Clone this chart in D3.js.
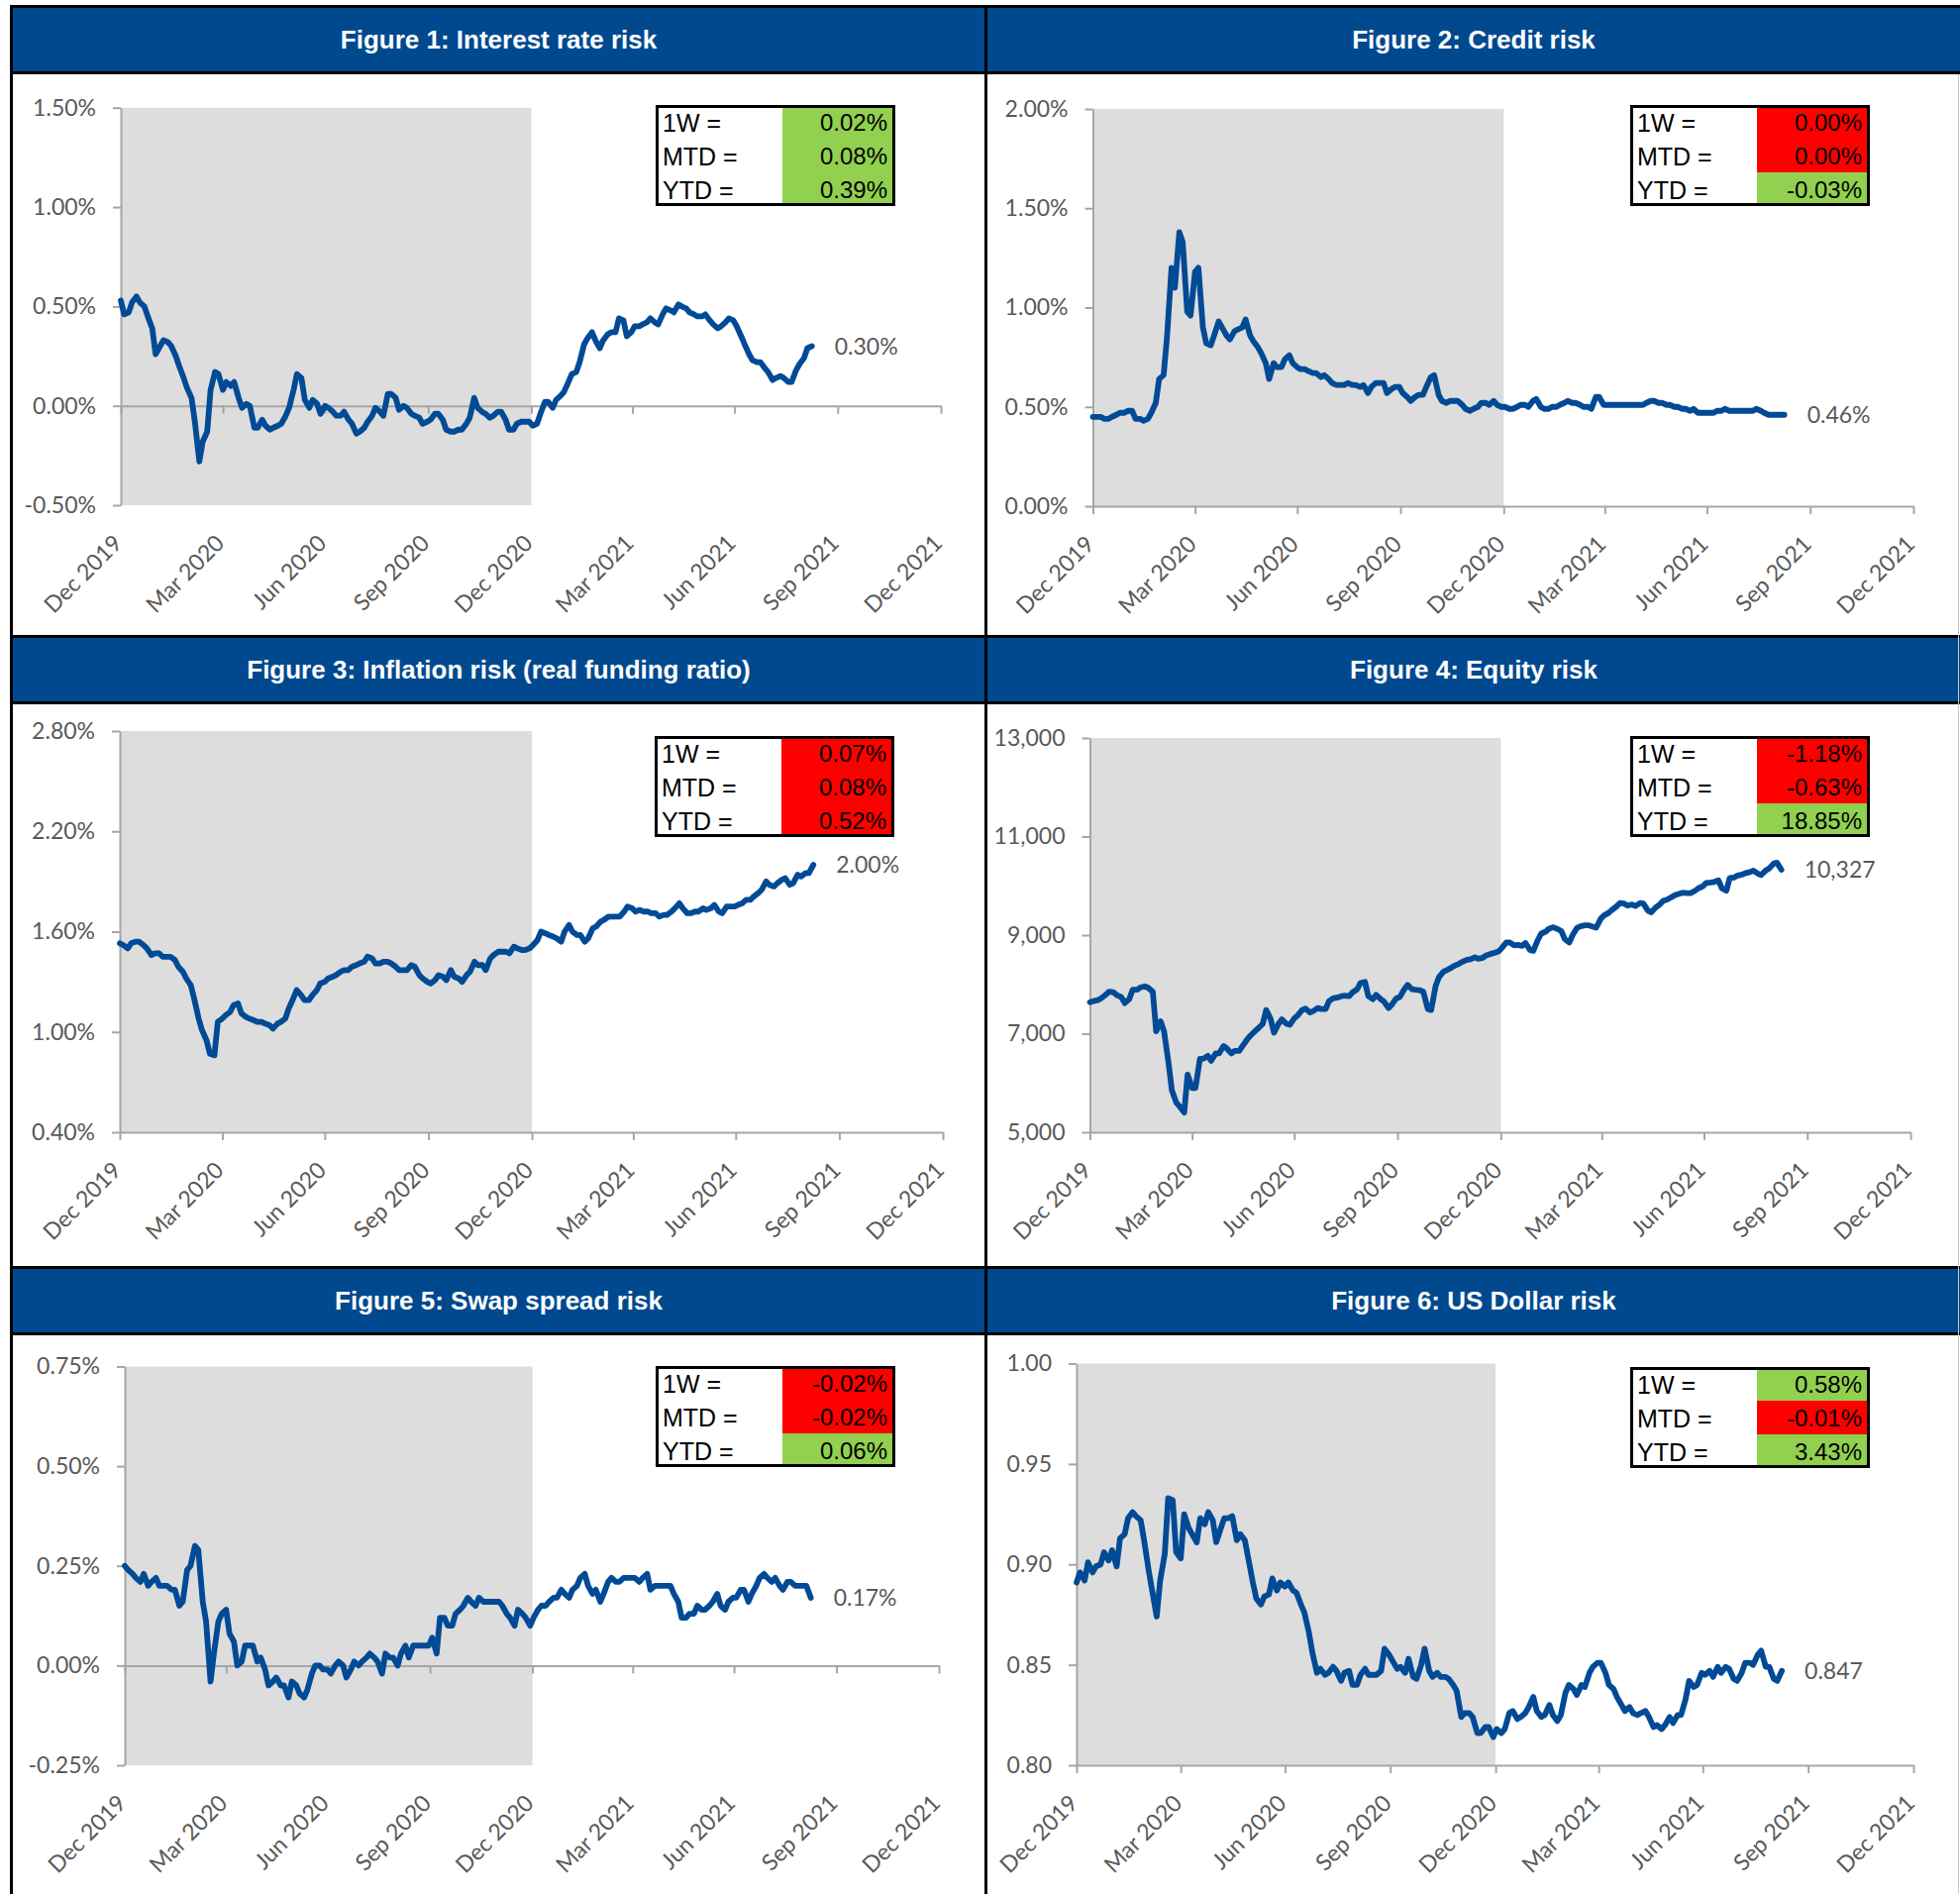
<!DOCTYPE html>
<html>
<head>
<meta charset="utf-8">
<script src="https://cdn.jsdelivr.net/npm/d3@7"></script>
<style>
  html, body { margin: 0; padding: 0; background: #fff; }
  svg { display: block; }
</style>
</head>
<body>
<svg id="chart" width="1979" height="1912"></svg>
<script>
// ---- data ----
const titles = [
  "Figure 1: Interest rate risk",
  "Figure 2: Credit risk",
  "Figure 3: Inflation risk (real funding ratio)",
  "Figure 4: Equity risk",
  "Figure 5: Swap spread risk",
  "Figure 6: US Dollar risk"
];

const quarterTicks = ["2019-12-31", "2020-03-31", "2020-06-30", "2020-09-30", "2020-12-31",
  "2021-03-31", "2021-06-30", "2021-09-30", "2021-12-31"];
const quarterLabels = ["Dec 2019", "Mar 2020", "Jun 2020", "Sep 2020", "Dec 2020",
  "Mar 2021", "Jun 2021", "Sep 2021", "Dec 2021"];
const shadeEnd = "2020-12-31";
// observations twice a week: Tuesdays 31 Dec 2019 .. 7 Sep 2021, Fridays 3 Jan 2020 .. 3 Sep 2021
const firstTue = "2019-12-31", lastTue = "2021-09-07";
const firstFri = "2020-01-03", lastFri = "2021-09-03";

// Figure 1, % (Tuesday / Friday readings)
const rateTue = [0.53, 0.47, 0.55, 0.50, 0.39, 0.30, 0.32, 0.25, 0.14, 0.04,
  -0.28, -0.13, 0.17, 0.08, 0.10, 0.04, 0.01, -0.11, -0.07, -0.12,
  -0.10, -0.05, 0.08, 0.14, -0.01, 0.01, 0.00, -0.03, -0.05, -0.07,
  -0.14, -0.11, -0.05, -0.03, 0.06, 0.04, 0.00, -0.04, -0.06, -0.08,
  -0.04, -0.07, -0.13, -0.12, -0.09, 0.04, -0.03, -0.06, -0.03, -0.07,
  -0.12, -0.08, -0.08, -0.09, 0.02, -0.01, 0.05, 0.12, 0.17, 0.31,
  0.37, 0.29, 0.36, 0.37, 0.43, 0.37, 0.40, 0.42, 0.42, 0.46,
  0.48, 0.51, 0.49, 0.46, 0.45, 0.43, 0.39, 0.42, 0.43, 0.35,
  0.26, 0.22, 0.19, 0.13, 0.15, 0.12, 0.18, 0.24, 0.30];
const rateFri = [0.46, 0.52, 0.52, 0.45, 0.26, 0.33, 0.30, 0.20, 0.09, -0.08,
  -0.18, 0.08, 0.16, 0.12, 0.12, -0.01, 0.00, -0.11, -0.10, -0.11,
  -0.09, -0.01, 0.16, 0.03, 0.03, -0.04, -0.01, -0.05, -0.03, -0.09,
  -0.13, -0.08, -0.01, -0.05, 0.06, -0.02, -0.01, -0.05, -0.09, -0.07,
  -0.04, -0.12, -0.13, -0.12, -0.06, -0.01, -0.04, -0.05, -0.03, -0.12,
  -0.09, -0.08, -0.10, -0.04, 0.02, 0.03, 0.07, 0.16, 0.22, 0.34,
  0.33, 0.33, 0.37, 0.44, 0.35, 0.40, 0.41, 0.44, 0.41, 0.49,
  0.47, 0.50, 0.47, 0.45, 0.46, 0.41, 0.40, 0.44, 0.40, 0.31,
  0.23, 0.22, 0.17, 0.14, 0.14, 0.12, 0.21, 0.29];

// Figure 2, %
const creditTue = [0.45, 0.45, 0.44, 0.46, 0.47, 0.48, 0.44, 0.44, 0.52, 0.66,
  1.20, 1.38, 0.98, 1.18, 0.90, 0.81, 0.93, 0.86, 0.88, 0.90,
  0.86, 0.80, 0.72, 0.72, 0.70, 0.76, 0.70, 0.69, 0.67, 0.65,
  0.64, 0.61, 0.61, 0.61, 0.60, 0.57, 0.62, 0.62, 0.59, 0.60,
  0.55, 0.55, 0.56, 0.65, 0.56, 0.52, 0.53, 0.51, 0.48, 0.50,
  0.52, 0.53, 0.50, 0.49, 0.50, 0.51, 0.53, 0.50, 0.49, 0.50,
  0.52, 0.52, 0.51, 0.50, 0.55, 0.51, 0.51, 0.51, 0.51, 0.51,
  0.51, 0.53, 0.52, 0.51, 0.50, 0.49, 0.48, 0.47, 0.47, 0.47,
  0.48, 0.48, 0.48, 0.48, 0.48, 0.48, 0.46, 0.46, 0.46];
const creditFri = [0.45, 0.44, 0.45, 0.47, 0.48, 0.44, 0.43, 0.47, 0.64, 0.85,
  1.10, 1.33, 0.96, 1.20, 0.82, 0.86, 0.90, 0.84, 0.89, 0.94,
  0.83, 0.77, 0.64, 0.70, 0.74, 0.72, 0.69, 0.68, 0.67, 0.66,
  0.62, 0.61, 0.62, 0.61, 0.61, 0.60, 0.62, 0.57, 0.60, 0.57,
  0.53, 0.56, 0.60, 0.66, 0.53, 0.53, 0.53, 0.49, 0.49, 0.52,
  0.51, 0.51, 0.50, 0.49, 0.51, 0.50, 0.54, 0.49, 0.50, 0.51,
  0.53, 0.52, 0.50, 0.49, 0.55, 0.51, 0.51, 0.51, 0.51, 0.51,
  0.52, 0.53, 0.52, 0.51, 0.50, 0.49, 0.49, 0.47, 0.47, 0.48,
  0.49, 0.48, 0.48, 0.48, 0.49, 0.47, 0.46, 0.46];

// Figure 3, %
const inflationTue = [1.53, 1.50, 1.54, 1.52, 1.46, 1.47, 1.45, 1.43, 1.36, 1.28,
  1.08, 0.95, 0.86, 1.08, 1.12, 1.17, 1.09, 1.07, 1.06, 1.04,
  1.05, 1.08, 1.20, 1.22, 1.19, 1.25, 1.30, 1.33, 1.36, 1.37,
  1.40, 1.42, 1.44, 1.41, 1.42, 1.39, 1.37, 1.40, 1.34, 1.30,
  1.31, 1.33, 1.37, 1.32, 1.34, 1.42, 1.40, 1.44, 1.48, 1.48,
  1.51, 1.49, 1.50, 1.55, 1.59, 1.57, 1.54, 1.64, 1.58, 1.54,
  1.62, 1.66, 1.69, 1.69, 1.72, 1.74, 1.73, 1.72, 1.71, 1.70,
  1.72, 1.77, 1.71, 1.72, 1.74, 1.74, 1.72, 1.75, 1.75, 1.77,
  1.79, 1.83, 1.90, 1.87, 1.91, 1.88, 1.94, 1.95, 2.00];
const inflationFri = [1.52, 1.53, 1.54, 1.50, 1.47, 1.45, 1.45, 1.39, 1.32, 1.20,
  1.01, 0.87, 1.06, 1.10, 1.16, 1.11, 1.08, 1.06, 1.05, 1.02,
  1.06, 1.14, 1.25, 1.19, 1.22, 1.29, 1.32, 1.34, 1.37, 1.39,
  1.41, 1.45, 1.41, 1.42, 1.41, 1.37, 1.37, 1.39, 1.32, 1.29,
  1.34, 1.31, 1.33, 1.30, 1.36, 1.40, 1.37, 1.46, 1.48, 1.47,
  1.50, 1.49, 1.52, 1.60, 1.58, 1.56, 1.60, 1.60, 1.58, 1.56,
  1.63, 1.67, 1.69, 1.69, 1.75, 1.72, 1.72, 1.71, 1.69, 1.70,
  1.74, 1.74, 1.71, 1.72, 1.73, 1.76, 1.71, 1.75, 1.76, 1.79,
  1.81, 1.85, 1.88, 1.89, 1.92, 1.89, 1.93, 1.95];

// Figure 4, index level
const equityTue = [7640, 7680, 7790, 7840, 7740, 7700, 7890, 7960, 7850, 7250,
  6410, 5600, 5400, 5900, 6490, 6550, 6600, 6750, 6600, 6650,
  6880, 7050, 7200, 7300, 7200, 7200, 7310, 7480, 7430, 7520,
  7500, 7720, 7760, 7760, 7900, 8050, 7700, 7700, 7520, 7720,
  7900, 7900, 7880, 7500, 7970, 8260, 8340, 8420, 8500, 8550,
  8540, 8620, 8670, 8850, 8790, 8780, 8700, 8900, 9070, 9160,
  9080, 8850, 9150, 9200, 9170, 9330, 9450, 9580, 9640, 9620,
  9650, 9500, 9560, 9700, 9770, 9840, 9850, 9900, 9990, 10070,
  10110, 9900, 10170, 10230, 10280, 10250, 10310, 10450, 10327];
const equityFri = [7660, 7720, 7850, 7780, 7620, 7890, 7940, 7930, 7050, 7050,
  5850, 5520, 6170, 5900, 6490, 6450, 6600, 6700, 6650, 6750,
  6960, 7110, 7480, 7020, 7290, 7180, 7370, 7510, 7460, 7500,
  7660, 7730, 7770, 7840, 8030, 7760, 7790, 7650, 7590, 7740,
  7990, 7890, 7850, 7480, 8150, 8290, 8380, 8460, 8510, 8520,
  8590, 8640, 8740, 8850, 8800, 8840, 8680, 9030, 9130, 9130,
  8920, 9000, 9180, 9200, 9150, 9400, 9510, 9650, 9600, 9590,
  9640, 9460, 9610, 9720, 9810, 9860, 9850, 9950, 10060, 10080,
  9950, 10160, 10210, 10260, 10310, 10220, 10350, 10470];

// Figure 5, %
const swapTue = [0.25, 0.23, 0.21, 0.20, 0.22, 0.20, 0.19, 0.15, 0.24, 0.30,
  0.16, -0.04, 0.11, 0.14, 0.06, 0.01, 0.05, 0.01, -0.01, -0.04,
  -0.05, -0.08, -0.05, -0.08, -0.02, 0.00, -0.01, 0.00, 0.00, -0.01,
  0.00, 0.02, 0.02, -0.02, 0.02, 0.00, 0.05, 0.05, 0.05, 0.05,
  0.03, 0.12, 0.10, 0.14, 0.17, 0.15, 0.16, 0.16, 0.16, 0.13,
  0.10, 0.13, 0.10, 0.14, 0.15, 0.17, 0.19, 0.17, 0.20, 0.23,
  0.18, 0.16, 0.21, 0.21, 0.22, 0.22, 0.21, 0.23, 0.20, 0.20,
  0.20, 0.16, 0.12, 0.13, 0.14, 0.15, 0.18, 0.14, 0.17, 0.19,
  0.16, 0.20, 0.23, 0.21, 0.20, 0.21, 0.20, 0.20, 0.17];
const swapFri = [0.24, 0.22, 0.23, 0.21, 0.20, 0.20, 0.19, 0.16, 0.25, 0.29,
  0.11, 0.03, 0.13, 0.08, 0.00, 0.05, 0.05, 0.02, -0.05, -0.03,
  -0.05, -0.04, -0.07, -0.06, 0.00, -0.01, -0.02, 0.01, -0.03, 0.01,
  0.01, 0.03, 0.01, 0.03, 0.02, 0.03, 0.02, 0.05, 0.05, 0.07,
  0.12, 0.10, 0.13, 0.15, 0.16, 0.17, 0.16, 0.16, 0.15, 0.12,
  0.14, 0.12, 0.12, 0.15, 0.16, 0.17, 0.18, 0.19, 0.22, 0.20,
  0.19, 0.18, 0.22, 0.21, 0.22, 0.22, 0.22, 0.19, 0.20, 0.20,
  0.18, 0.12, 0.13, 0.15, 0.14, 0.16, 0.15, 0.16, 0.17, 0.19,
  0.18, 0.22, 0.22, 0.22, 0.19, 0.21, 0.20, 0.20];

// Figure 6, USD rate
const usdTue = [0.891, 0.892, 0.896, 0.900, 0.902, 0.899, 0.915, 0.926, 0.922, 0.897,
  0.874, 0.905, 0.932, 0.903, 0.918, 0.911, 0.920, 0.922, 0.918, 0.923,
  0.912, 0.912, 0.891, 0.880, 0.885, 0.887, 0.889, 0.887, 0.880, 0.866,
  0.846, 0.845, 0.849, 0.842, 0.847, 0.840, 0.848, 0.845, 0.847, 0.855,
  0.848, 0.846, 0.844, 0.850, 0.847, 0.846, 0.844, 0.840, 0.824, 0.826,
  0.816, 0.819, 0.814, 0.816, 0.826, 0.823, 0.826, 0.834, 0.824, 0.830,
  0.822, 0.836, 0.838, 0.840, 0.846, 0.851, 0.846, 0.838, 0.830, 0.829,
  0.825, 0.827, 0.819, 0.818, 0.824, 0.825, 0.833, 0.839, 0.846, 0.847,
  0.849, 0.849, 0.843, 0.846, 0.851, 0.855, 0.849, 0.843, 0.847];
const usdFri = [0.896, 0.901, 0.899, 0.906, 0.907, 0.913, 0.923, 0.924, 0.912, 0.887,
  0.892, 0.933, 0.906, 0.925, 0.915, 0.923, 0.926, 0.911, 0.923, 0.924,
  0.915, 0.903, 0.883, 0.884, 0.893, 0.891, 0.891, 0.886, 0.876, 0.856,
  0.848, 0.846, 0.847, 0.846, 0.840, 0.845, 0.845, 0.845, 0.858, 0.852,
  0.849, 0.853, 0.843, 0.858, 0.844, 0.844, 0.843, 0.837, 0.826, 0.824,
  0.816, 0.819, 0.818, 0.818, 0.827, 0.824, 0.829, 0.827, 0.825, 0.825,
  0.825, 0.840, 0.835, 0.839, 0.849, 0.851, 0.840, 0.834, 0.827, 0.826,
  0.826, 0.824, 0.820, 0.820, 0.821, 0.825, 0.842, 0.840, 0.845, 0.844,
  0.846, 0.848, 0.842, 0.851, 0.850, 0.857, 0.849, 0.842];

const rateTicks = [-0.5, 0, 0.5, 1.0, 1.5];
const creditTicks = [0, 0.5, 1.0, 1.5, 2.0];
const inflationTicks = [0.4, 1.0, 1.6, 2.2, 2.8];
const equityTicks = [5000, 7000, 9000, 11000, 13000];
const swapTicks = [-0.25, 0, 0.25, 0.5, 0.75];
const usdTicks = [0.80, 0.85, 0.90, 0.95, 1.00];

const lastLabels = ["0.30%", "0.46%", "2.00%", "10,327", "0.17%", "0.847"];

const statLabels = ["1W =", "MTD =", "YTD ="];
const statValues = [
  ["0.02%", "0.08%", "0.39%"],
  ["0.00%", "0.00%", "-0.03%"],
  ["0.07%", "0.08%", "0.52%"],
  ["-1.18%", "-0.63%", "18.85%"],
  ["-0.02%", "-0.02%", "0.06%"],
  ["0.58%", "-0.01%", "3.43%"]
];
const statGood = [
  [true, true, true],
  [false, false, true],
  [false, false, false],
  [false, false, true],
  [false, false, true],
  [true, false, true]
];

// ---- styling / layout ----
const BLUE = "#00498F", LINE = "#004A96", SHADE = "#DDDDDD", AXIS = "#A6A6A6",
  LABEL = "#595959", GREEN = "#92D050", RED = "#FF0000";
const tickFont = "Lato, 'Open Sans', sans-serif";
const tableFont = "'Liberation Sans', Arial, sans-serif";

const loc = d3.formatLocale({decimal: ".", thousands: ",", grouping: [3], currency: ["", ""], minus: "-"});
const pct = v => loc.format(".2f")(v) + "%";

const rowTops = [6, 642, 1279];
const colCenters = [503.5, 1488];

const panels = [
  {tue: rateTue, fri: rateFri, domain: [-0.5, 1.5], ticks: rateTicks, fmt: pct, zeroAxis: true,
   x0: 122, x1: 950, y0: 108.7, y1: 510, tx: 662, ty: 106, col: 0, row: 0},
  {tue: creditTue, fri: creditFri, domain: [0, 2], ticks: creditTicks, fmt: pct, zeroAxis: false,
   x0: 1103.5, x1: 1932, y0: 110, y1: 511, tx: 1646, ty: 106, col: 1, row: 0},
  {tue: inflationTue, fri: inflationFri, domain: [0.4, 2.8], ticks: inflationTicks, fmt: pct, zeroAxis: false,
   x0: 121, x1: 952, y0: 738, y1: 1143, tx: 661, ty: 743, col: 0, row: 1},
  {tue: equityTue, fri: equityFri, domain: [5000, 13000], ticks: equityTicks, fmt: loc.format(","), zeroAxis: false,
   x0: 1100.5, x1: 1929, y0: 745, y1: 1143, tx: 1646, ty: 743, col: 1, row: 1},
  {tue: swapTue, fri: swapFri, domain: [-0.25, 0.75], ticks: swapTicks, fmt: pct, zeroAxis: true,
   x0: 126, x1: 948, y0: 1379.5, y1: 1782, tx: 662, ty: 1379, col: 0, row: 2},
  {tue: usdTue, fri: usdFri, domain: [0.8, 1.0], ticks: usdTicks, fmt: loc.format(".2f"), zeroAxis: false,
   x0: 1087, x1: 1932, y0: 1376.5, y1: 1782, tx: 1646, ty: 1380, col: 1, row: 2}
];

const parse = d3.timeParse("%Y-%m-%d");
const tickDates = quarterTicks.map(parse);
const tuesdays = d3.timeTuesday.range(parse(firstTue), d3.timeDay.offset(parse(lastTue), 1));
const fridays = d3.timeFriday.range(parse(firstFri), d3.timeDay.offset(parse(lastFri), 1));

const svg = d3.select("#chart");
svg.append("rect").attr("width", 1979).attr("height", 1912).attr("fill", "#fff");

// header bands
rowTops.forEach(t => {
  svg.append("rect").attr("x", 10).attr("y", t - 1).attr("width", 1969).attr("height", 70).attr("fill", "#000");
  svg.append("rect").attr("x", 10).attr("y", t + 2).attr("width", 1969).attr("height", 64).attr("fill", BLUE);
});
// frame lines
svg.append("rect").attr("x", 10).attr("y", 5).attr("width", 3).attr("height", 1907).attr("fill", "#000");
svg.append("rect").attr("x", 994).attr("y", 5).attr("width", 3).attr("height", 1907).attr("fill", "#000");
svg.append("line").attr("x1", 1977.5).attr("x2", 1977.5).attr("y1", 75).attr("y2", 1912)
  .attr("stroke", "#c8c8c8").attr("stroke-width", 1);

panels.forEach((p, i) => {
  // title
  svg.append("text")
    .attr("x", colCenters[p.col]).attr("y", rowTops[p.row] + 34)
    .attr("dy", "0.35em").attr("text-anchor", "middle")
    .attr("fill", "#fff").attr("font-family", tableFont)
    .attr("font-weight", "bold").attr("font-size", 26)
    .text(titles[i]);

  const x = d3.scaleTime().domain([tickDates[0], tickDates[tickDates.length - 1]]).range([p.x0, p.x1]);
  const y = d3.scaleLinear().domain(p.domain).range([p.y1, p.y0]);
  const g = svg.append("g");

  // 2020 shading
  g.append("rect")
    .attr("x", p.x0).attr("y", p.y0)
    .attr("width", x(parse(shadeEnd)) - p.x0).attr("height", p.y1 - p.y0)
    .attr("fill", SHADE);

  // y axis
  const ya = g.append("g").attr("transform", `translate(${p.x0},0)`)
    .call(d3.axisLeft(y).tickValues(p.ticks).tickSize(8).tickSizeOuter(0).tickPadding(17).tickFormat(p.fmt));
  ya.selectAll("text").attr("fill", LABEL).attr("font-family", tickFont).attr("font-size", 23);

  // x axis (ticks sit on the zero line when the range crosses zero)
  const axisY = p.zeroAxis ? y(0) : p.y1;
  const xa = g.append("g").attr("transform", `translate(0,${axisY})`)
    .call(d3.axisBottom(x).tickValues(tickDates).tickSize(8).tickSizeOuter(0).tickFormat(""));

  [ya, xa].forEach(a => {
    a.select(".domain").attr("stroke", AXIS).attr("stroke-width", 2);
    a.selectAll(".tick line").attr("stroke", AXIS).attr("stroke-width", 2);
  });

  // rotated date labels below the plot
  g.append("g").selectAll("text")
    .data(tickDates)
    .join("text")
    .attr("transform", d => `translate(${x(d) - 3},${p.y1 + 34}) rotate(-45)`)
    .attr("text-anchor", "end").attr("dy", "0.35em")
    .attr("fill", LABEL).attr("font-family", tickFont).attr("font-size", 23)
    .text((d, k) => quarterLabels[k]);

  // series line, Tuesday and Friday readings interleaved
  const pts = [];
  tuesdays.forEach((d, k) => {
    pts.push({date: d, v: p.tue[k]});
    if (k < fridays.length) pts.push({date: fridays[k], v: p.fri[k]});
  });
  g.append("path")
    .datum(pts)
    .attr("fill", "none").attr("stroke", LINE).attr("stroke-width", 5.8)
    .attr("stroke-linejoin", "round").attr("stroke-linecap", "round")
    .attr("d", d3.line().x(d => x(d.date)).y(d => y(d.v)));

  // last value label
  const last = pts[pts.length - 1];
  g.append("text")
    .attr("x", x(last.date) + 23).attr("y", y(last.v)).attr("dy", "0.35em")
    .attr("fill", LABEL).attr("font-family", tickFont).attr("font-size", 23)
    .text(lastLabels[i]);

  // change table
  const tw = 242, rh = 34, split = 128;
  const tb = g.append("g").attr("transform", `translate(${p.tx},${p.ty})`);
  tb.append("rect").attr("width", tw).attr("height", rh * 3).attr("fill", "#fff");
  tb.selectAll("rect.cell").data(statGood[i]).join("rect").attr("class", "cell")
    .attr("x", split).attr("y", (d, k) => k * rh)
    .attr("width", tw - split).attr("height", rh)
    .attr("fill", d => d ? GREEN : RED);
  tb.append("rect").attr("x", 1.5).attr("y", 1.5).attr("width", tw - 3).attr("height", rh * 3 - 3)
    .attr("fill", "none").attr("stroke", "#000").attr("stroke-width", 3);
  tb.selectAll("text.lab").data(statLabels).join("text").attr("class", "lab")
    .attr("x", 7).attr("y", (d, k) => k * rh + rh / 2 + 1).attr("dy", "0.35em")
    .attr("font-family", tableFont).attr("font-size", 25).attr("fill", "#000")
    .text(d => d);
  tb.selectAll("text.val").data(statValues[i]).join("text").attr("class", "val")
    .attr("x", tw - 8).attr("y", (d, k) => k * rh + rh / 2 + 1).attr("dy", "0.35em")
    .attr("text-anchor", "end")
    .attr("font-family", tableFont).attr("font-size", 24).attr("fill", "#000")
    .text(d => d);
});
</script>
</body>
</html>
